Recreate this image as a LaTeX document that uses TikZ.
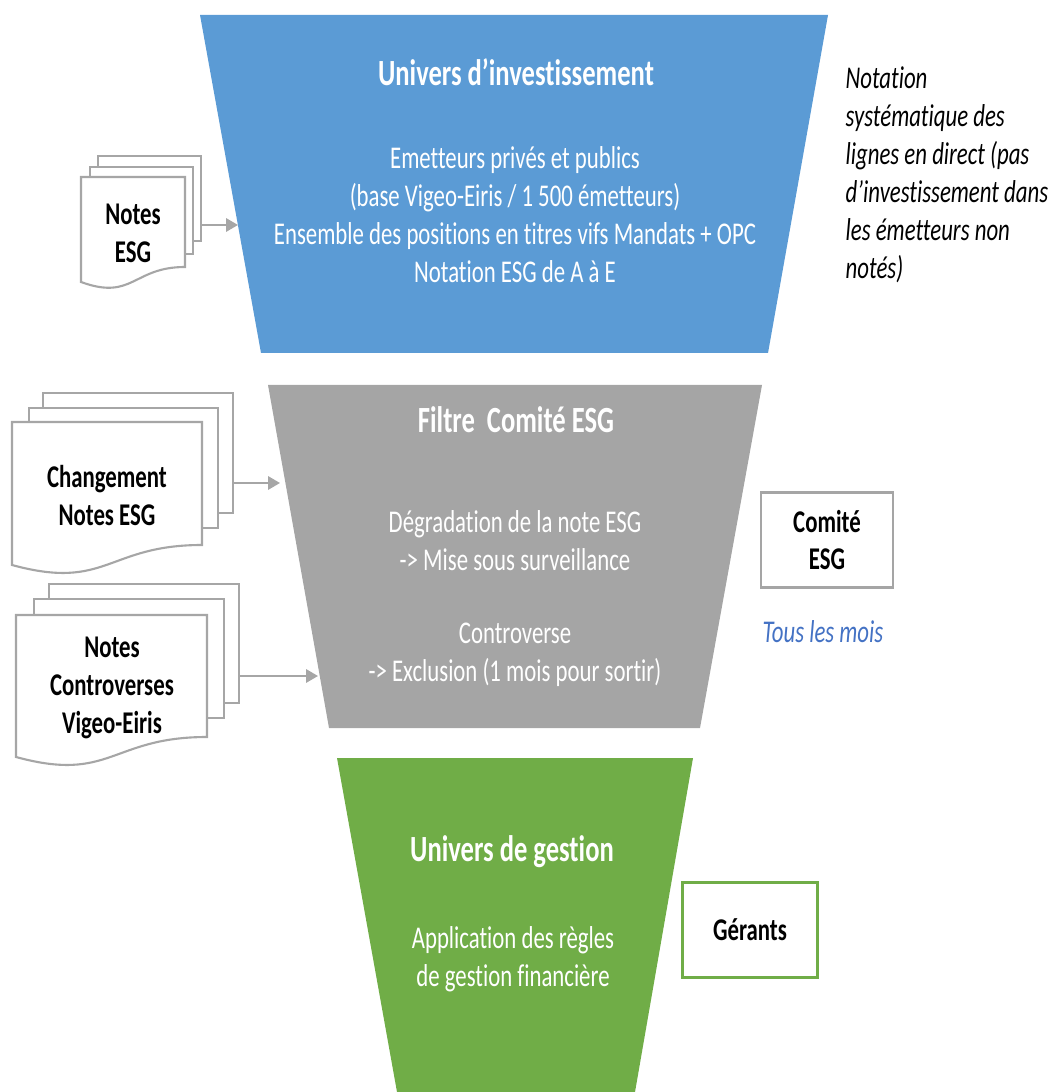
\documentclass[tikz,border=0pt]{standalone}
\usepackage{fontspec}
\setmainfont{Carlito}[FakeStretch=0.72, Ligatures={NoCommon}]
\usetikzlibrary{arrows.meta}

\definecolor{invblue}{HTML}{5B9BD5}
\definecolor{filtgray}{HTML}{A5A5A5}
\definecolor{gestgreen}{HTML}{70AD47}
\definecolor{moisblue}{HTML}{4472C4}
\definecolor{pagegray}{HTML}{A6A6A6}

\begin{document}
\begin{tikzpicture}[x=0.01cm, y=-0.01cm, >={Triangle[length=3.4pt,width=3.8pt]},
  page/.style={draw=pagegray, line width=0.6pt, fill=white, inner sep=0pt, anchor=north west},
  doc/.style={font=\fontsize{9}{10.8}\selectfont\bfseries, align=center, inner sep=0pt},
  title/.style={font=\fontsize{10.5}{12}\selectfont\bfseries, text=white, inner sep=0pt},
  body/.style={font=\fontsize{9}{10.8}\selectfont, text=white, align=center, inner sep=0pt},
  note/.style={font=\fontsize{9}{10.8}\selectfont\itshape, align=left, inner sep=0pt},
  box/.style={draw=#1, line width=0.8pt, minimum height=0.95cm, font=\fontsize{9}{10.8}\selectfont\bfseries, align=center},
  arr/.style={->, draw=pagegray, fill=pagegray, line width=0.6pt}]
\useasboundingbox (0,0) rectangle (1050,1092);

% entonnoir
\fill[invblue] (200,15) -- (828,15) -- (768,353) -- (261,353) -- cycle;
\fill[filtgray] (268,385) -- (762,385) -- (700,728) -- (329,728) -- cycle;
\fill[gestgreen] (337,758) -- (693,758) -- (635,1092) -- (397,1092) -- cycle;

\node[title] (inv) at (516,72) {Univers d’investissement};
\node[body] (invtxt) at (515,215) {Emetteurs privés et publics\\(base Vigeo-Eiris / 1~500 émetteurs)\\Ensemble des positions en titres vifs Mandats + OPC\\Notation ESG de A à E};

\node[title] (filtre) at (516,420) {Filtre~ Comité ESG};
\node[body] (degr) at (515,541) {Dégradation de la note ESG\\-> Mise sous surveillance};
\node[body] (contr) at (515,655) {Controverse\\-> Exclusion (1 mois pour sortir)};

\node[title] (gest) at (512,852) {Univers de gestion};
\node[body] (gesttxt) at (513,959) {Application des règles\\de gestion financière};

% documents
\node[page, minimum width=1.03cm, minimum height=0.85cm] (b1) at (97,155) {};
\node[page, minimum width=1.03cm, minimum height=0.87cm] (m1) at (89,166) {};
\draw[page] (81,177) -- (185,177) -- (185,267) .. controls (133,267) and (133,301) .. (81,282) -- cycle;
\node[doc] (d1) at (133,233) {Notes\\ESG};

\node[page, minimum width=1.90cm, minimum height=1.20cm] (b2) at (42,392) {};
\node[page, minimum width=1.89cm, minimum height=1.20cm] (m2) at (28,407) {};
\draw[page] (12,422) -- (202,422) -- (202,545) .. controls (107,545) and (107,591) .. (12,565) -- cycle;
\node[doc] (d2) at (107,496) {Changement\\Notes ESG};

\node[page, minimum width=1.90cm, minimum height=1.19cm] (b3) at (48,583) {};
\node[page, minimum width=1.90cm, minimum height=1.19cm] (m3) at (33,598) {};
\draw[page] (16,615) -- (207,615) -- (207,737) .. controls (111,737) and (111,783) .. (16,757) -- cycle;
\node[doc] (d3) at (112,688) {Notes\\Controverses\\Vigeo-Eiris};

\coordinate (t1) at (238,225);
\coordinate (t2) at (280,483);
\coordinate (t3) at (318,676);
\draw[arr] (b1.east |- t1) -- (t1);
\draw[arr] (b2.east |- t2) -- (t2);
\draw[arr] (b3.east |- t3) -- (t3);

% a droite
\node[note, anchor=west] (notation) at (845,175) {Notation\\systématique des\\lignes en direct (pas\\d’investissement dans\\les émetteurs non\\notés)};
\node[box=filtgray, minimum width=1.32cm] (comite) at (827,540) {Comité\\ESG};
\node[note, text=moisblue] (mois) at (823,632) {Tous les mois};
\node[box=gestgreen, minimum width=1.35cm] (gerants) at (750,930) {Gérants};
\end{tikzpicture}
\end{document}
